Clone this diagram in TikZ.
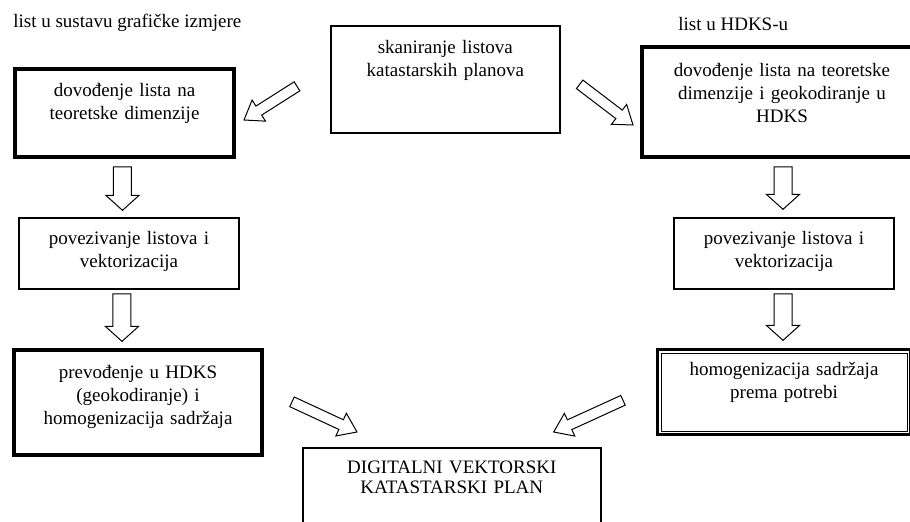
\documentclass[tikz,border=0pt]{standalone}
\usepackage{fontspec}
\setmainfont{Liberation Serif}
\usetikzlibrary{positioning,calc}

% hollow block arrow: #1 half shaft, #2 half head, #3 head length, #4 tail, #5 tip
\newcommand{\blockarrow}[5]{%
  \draw[arrowline] let \p1=(#4), \p2=(#5),
      \n1={atan2(\y2-\y1,\x2-\x1)}, \n2={veclen(\x2-\x1,\y2-\y1)-#3} in
    ($(\p1)+(\n1+90:#1)$) -- ($(\p1)+(\n1+90:#1)+(\n1:\n2)$)
    -- ($(\p1)+(\n1+90:#2)+(\n1:\n2)$) -- (\p2)
    -- ($(\p1)+(\n1-90:#2)+(\n1:\n2)$) -- ($(\p1)+(\n1-90:#1)+(\n1:\n2)$)
    -- ($(\p1)+(\n1-90:#1)$) -- cycle;}
\newcommand{\fatarrow}[2]{\blockarrow{5.4pt}{10pt}{9pt}{#1}{#2}}
\newcommand{\slimarrow}[2]{\blockarrow{3.2pt}{7.5pt}{10.5pt}{#1}{#2}}

\begin{document}
\begin{tikzpicture}[x=0.6pt, y=-0.6pt, node distance=35pt,
		every node/.style={font=\fontsize{11.4}{13.8}\selectfont},
		box/.style={
			% the frame
			rectangle, draw=black, line width=1pt,
			% the text
			align=center, inner xsep=0pt, inner ysep=0pt},
		thickbox/.style={box, line width=2.4pt},
		arrowline/.style={draw=black, line width=0.6pt, fill=white, line join=miter}]
		\useasboundingbox (0,0) rectangle (910,522);

		\node (lblL)	[anchor=base west, inner xsep=0pt] at (13,28)	{list u sustavu grafičke izmjere};
		\node (lblR)	[anchor=base west, inner xsep=0pt] at (678,31)	{list u HDKS-u};

		\node (skan)	[box, anchor=north west, text width=137.4pt, text height=16.8pt, text depth=47.4pt]
			at (330,25)	{skaniranje listova\\katastarskih planova};
		\node (dovL)	[thickbox, anchor=north west, text width=131.4pt, text height=16.8pt, text depth=36pt]
			at (13,67)	{dovođenje lista na\\teoretske dimenzije};
		\node (dovR)	[thickbox, anchor=north west, text width=168pt, text height=18pt, text depth=48pt]
			at (640,45)	{dovođenje lista na teoretske\\dimenzije i geokodiranje u\\HDKS};

		\node (povL)	[box, below=of dovL, xshift=2.7pt, text width=132pt, text height=15.6pt, text depth=27pt]
				{povezivanje listova i\\vektorizacija};
		\node (prevL)	[thickbox, below=of povL, xshift=5.4pt, text width=148.8pt, text height=16.8pt, text depth=46.2pt]
				{prevođenje u HDKS\\(geokodiranje) i\\homogenizacija sadržaja};
		\node (povR)	[box, below=of dovR, xshift=1.2pt, text width=132pt, text height=15.6pt, text depth=27pt]
				{povezivanje listova i\\vektorizacija};
		\node (homR)	[box, line width=1.8pt, below=of povR, text width=151.8pt, text height=15.6pt, text depth=35.4pt]
				{homogenizacija sadržaja\\prema potrebi};
		\draw[line width=0.6pt] ([shift={(5,5)}]homR.north west) rectangle ([shift={(-5,-5)}]homR.south east);

		\node (dvkp)	[box, anchor=north west, text width=178.8pt, text height=15.6pt, text depth=44.4pt,
			font=\fontsize{11.4}{12}\selectfont]
			at (302,447)	{DIGITALNI VEKTORSKI\\KATASTARSKI PLAN};

		\slimarrow{$(skan.west)+(-33,7)$}{$(dovL.east)+(8,7)$}
		\slimarrow{$(skan.east)+(19,5)$}{$(dovR.west)+(-7,23)$}
		\fatarrow{$(dovL.south)+(-2,8)$}{$(dovL.south |- povL.north)+(-2,-7)$}
		\fatarrow{$(povL.south)+(-7,4)$}{$(povL.south |- prevL.north)+(-7,-7)$}
		\fatarrow{$(dovR.south)+(1,8)$}{$(dovR.south |- povR.north)+(1,-8)$}
		\fatarrow{$(povR.south)+(-1,4)$}{$(povR.south |- homR.north)+(-1,-8)$}
		\slimarrow{$(prevL.east)+(28,-1)$}{$(dvkp.north west)+(55,-15)$}
		\slimarrow{$(homR.west)+(-33,8)$}{$(dvkp.north east)+(-48,-15)$}
\end{tikzpicture}
\end{document}
